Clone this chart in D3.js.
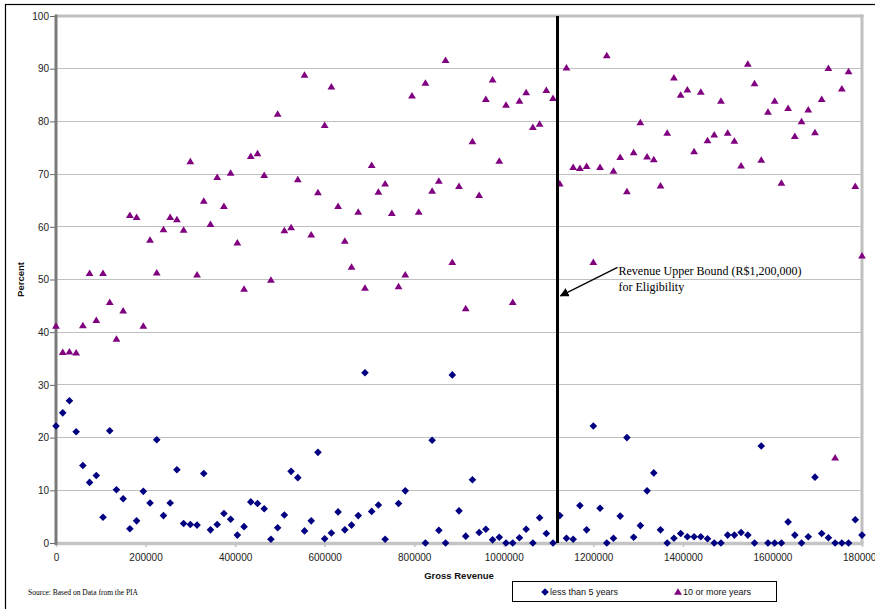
<!DOCTYPE html>
<html>
<meta charset="utf-8">
<title>Percent by Gross Revenue</title>
<style>
    body {
        margin: 0;
        background: #fff;
    }

    svg {
        display: block;
    }

    .tick text {
        font-family: "Liberation Sans", Arial, sans-serif;
        font-size: 10px;
        fill: #222;
    }

    .grid line {
        stroke: #c0c0c0;
        shape-rendering: crispEdges;
    }

    .axis-title {
        font-family: "Liberation Sans", Arial, sans-serif;
        font-weight: bold;
        font-size: 9.5px;
        fill: #111;
    }

    .serif {
        font-family: "Liberation Serif", "Times New Roman", serif;
        fill: #000;
    }

    .legend text {
        font-family: "Liberation Sans", Arial, sans-serif;
        font-size: 9px;
        fill: #111;
    }
</style>
<script src="https://cdn.jsdelivr.net/npm/d3@7/dist/d3.min.js"></script>

<body>
<script>
    // gross revenue of each observation (R$)
    const revenue = [
        0, 15000, 30000, 45000, 60000, 75000, 90000, 105000, 120000, 135000,
        150000, 165000, 180000, 195000, 210000, 225000, 240000, 255000, 270000, 285000,
        300000, 315000, 330000, 345000, 360000, 375000, 390000, 405000, 420000, 435000,
        450000, 465000, 480000, 495000, 510000, 525000, 540000, 555000, 570000, 585000,
        600000, 615000, 630000, 645000, 660000, 675000, 690000, 705000, 720000, 735000,
        750000, 765000, 780000, 795000, 810000, 825000, 840000, 855000, 870000, 885000,
        900000, 915000, 930000, 945000, 960000, 975000, 990000, 1005000, 1020000, 1035000,
        1050000, 1065000, 1080000, 1095000, 1110000, 1125000, 1140000, 1155000, 1170000, 1185000,
        1200000, 1215000, 1230000, 1245000, 1260000, 1275000, 1290000, 1305000, 1320000, 1335000,
        1350000, 1365000, 1380000, 1395000, 1410000, 1425000, 1440000, 1455000, 1470000, 1485000,
        1500000, 1515000, 1530000, 1545000, 1560000, 1575000, 1590000, 1605000, 1620000, 1635000,
        1650000, 1665000, 1680000, 1695000, 1710000, 1725000, 1740000, 1755000, 1770000, 1785000,
        1800000
    ]

    // percent "less than 5 years" (null = no point drawn)
    const lessThan5 = [
        22.2, 24.7, 27.0, 21.1, 14.7, 11.5, 12.8, 4.9, 21.3, 10.1,
        8.4, 2.7, 4.2, 9.8, 7.6, 19.6, 5.2, 7.6, 13.9, 3.7,
        3.5, 3.4, 13.2, 2.5, 3.5, 5.6, 4.5, 1.5, 3.1, 7.8,
        7.5, 6.5, 0.7, 2.9, 5.3, 13.6, 12.4, 2.3, 4.2, 17.2,
        0.8, 1.9, 5.9, 2.5, 3.4, 5.2, 32.3, 6.0, 7.2, 0.7,
        null, 7.5, 9.9, null, null, 0, 19.5, 2.4, 0, 31.9,
        6.1, 1.3, 12.0, 2.0, 2.6, 0.6, 1.1, 0, 0, 1.0,
        2.6, 0, 4.8, 1.8, 0, 5.2, 0.9, 0.7, 7.1, 2.5,
        22.2, 6.6, 0, 0.9, 5.1, 20.0, 1.1, 3.3, 9.9, 13.3,
        2.5, 0, 0.9, 1.8, 1.2, 1.2, 1.2, 0.8, 0, 0,
        1.5, 1.5, 2.0, 1.5, 0, 18.4, 0, 0, 0, 4.0,
        1.5, 0, 1.2, 12.5, 1.8, 1.0, 0, 0, 0, 4.4,
        1.5
    ]

    // percent "10 or more years"
    const tenOrMore = [
        41.2, 36.2, 36.3, 36.1, 41.3, 51.2, 42.3, 51.2, 45.7, 38.7,
        44.1, 62.2, 61.8, 41.2, 57.5, 51.3, 59.5, 61.8, 61.4, 59.4,
        72.4, 50.9, 64.9, 60.5, 69.4, 63.9, 70.2, 57.0, 48.2, 73.4,
        73.9, 69.8, 49.9, 81.4, 59.3, 59.9, 69.0, 88.8, 58.5, 66.5,
        79.3, 86.6, 63.9, 57.3, 52.4, 62.8, 48.4, 71.7, 66.6, 68.2,
        62.6, 48.7, 50.9, 84.9, 62.8, 87.3, 66.8, 68.7, 91.6, 53.3,
        67.7, 44.5, 76.2, 66.0, 84.2, 87.9, 72.5, 83.1, 45.7, 83.9,
        85.5, 78.9, 79.5, 85.9, 84.4, 68.2, 90.2, 71.3, 71.1, 71.5,
        53.3, 71.3, 92.5, 70.6, 73.2, 66.7, 74.1, 79.8, 73.3, 72.8,
        67.8, 77.8, 88.3, 85.0, 86.0, 74.3, 85.6, 76.4, 77.5, 83.9,
        77.8, 76.3, 71.6, 90.9, 87.2, 72.7, 81.8, 83.9, 68.3, 82.5,
        77.2, 80.0, 82.2, 77.9, 84.2, 90.1, 16.2, 86.2, 89.5, 67.7,
        54.5
    ]

    const xTicks = [0, 200000, 400000, 600000, 800000, 1000000, 1200000, 1400000, 1600000, 1800000]
    const yTicks = [0, 10, 20, 30, 40, 50, 60, 70, 80, 90, 100]
    const seriesNames = ["less than 5 years", "10 or more years"]
    const boundRevenue = 1120000   // where the eligibility line is drawn
    const boundLabel = ["Revenue Upper Bound (R$1,200,000)", "for Eligibility"]

    const width = 875, height = 609
    const x = d3.scaleLinear().domain([0, 1800000]).range([56, 862])
    const y = d3.scaleLinear().domain([0, 100]).range([543, 16])

    const diamond = "M0,-3.8L3.8,0L0,3.8L-3.8,0Z"
    const triangle = "M0,-3.7L3.9,2.8L-3.9,2.8Z"

    let svg = d3.select("body").append("svg")
        .attr("width", width).attr("height", height)

    // outer frame (runs off the right / bottom edge)
    svg.append("rect")
        .attr("x", 5.5).attr("y", 4.5)
        .attr("width", 900).attr("height", 700)
        .attr("fill", "none").attr("stroke", "#000").attr("stroke-width", 1.2)

    // gridlines
    svg.append("g").attr("class", "grid")
        .selectAll("line")
        .data(yTicks.filter(d => d > 0 && d < 100))
        .join("line")
        .attr("x1", x.range()[0]).attr("x2", x.range()[1])
        .attr("y1", d => y(d)).attr("y2", d => y(d))

    // plot frame
    let frame = svg.append("g")
    frame.append("line")
        .attr("x1", x(0)).attr("x2", x(1800000) + 1.5)
        .attr("y1", y(100)).attr("y2", y(100))
        .attr("stroke", "#c0c0c0").attr("stroke-width", 3)
    frame.append("line")
        .attr("x1", x(1800000)).attr("x2", x(1800000))
        .attr("y1", y(100) - 1.5).attr("y2", y(0))
        .attr("stroke", "#c0c0c0").attr("stroke-width", 3)

    // x axis
    let xAxis = svg.append("g")
        .attr("transform", `translate(0,${y(0)})`)
        .call(d3.axisBottom(x).tickValues(xTicks).tickFormat(d3.format("d")).tickSize(4).tickPadding(7))
    xAxis.select(".domain").remove()
    xAxis.selectAll(".tick line").attr("stroke", "#c0c0c0").attr("stroke-width", 1.5)
    svg.append("line")
        .attr("x1", x(0)).attr("x2", x(1800000) + 1.5)
        .attr("y1", y(0) + 0.5).attr("y2", y(0) + 0.5)
        .attr("stroke", "#c4c4c4").attr("stroke-width", 3.5)

    // y axis
    let yAxis = svg.append("g")
        .attr("transform", `translate(${x(0)},0)`)
        .call(d3.axisLeft(y).tickValues(yTicks).tickSize(6).tickPadding(1))
    yAxis.select(".domain").remove()
    yAxis.selectAll(".tick line").attr("stroke", "#666")
    svg.append("line")
        .attr("x1", x(0)).attr("x2", x(0))
        .attr("y1", y(100) - 1.5).attr("y2", y(0) + 2)
        .attr("stroke", "#7a7a7a").attr("stroke-width", 3)

    // series
    let lowPts = revenue.map((r, i) => ({ r: r, v: lessThan5[i] })).filter(d => d.v != null)
    let highPts = revenue.map((r, i) => ({ r: r, v: tenOrMore[i] })).filter(d => d.v != null)

    svg.append("g").selectAll("path")
        .data(highPts)
        .join("path")
        .attr("d", triangle)
        .attr("fill", "#800080")
        .attr("transform", d => `translate(${x(d.r)},${y(d.v)})`)

    svg.append("g").selectAll("path")
        .data(lowPts)
        .join("path")
        .attr("d", diamond)
        .attr("fill", "#000080")
        .attr("transform", d => `translate(${x(d.r)},${y(d.v)})`)

    // eligibility bound
    svg.append("line")
        .attr("x1", x(boundRevenue)).attr("x2", x(boundRevenue))
        .attr("y1", y(100)).attr("y2", y(0))
        .attr("stroke", "#000").attr("stroke-width", 3)

    svg.append("defs").append("marker")
        .attr("id", "arrow")
        .attr("viewBox", "0 0 10 10")
        .attr("refX", 9).attr("refY", 5)
        .attr("markerWidth", 7).attr("markerHeight", 7)
        .attr("orient", "auto")
        .append("path").attr("d", "M0,0L10,5L0,10Z").attr("fill", "#000")

    svg.append("line")
        .attr("x1", x(boundRevenue) + 60).attr("y1", y(52.3))
        .attr("x2", x(boundRevenue) + 3).attr("y2", y(46.9))
        .attr("stroke", "#000").attr("stroke-width", 1.3)
        .attr("marker-end", "url(#arrow)")

    svg.append("text").attr("class", "serif")
        .attr("x", x(boundRevenue) + 61).attr("y", y(50.9))
        .style("font-size", "12px")
        .selectAll("tspan")
        .data(boundLabel)
        .join("tspan")
        .attr("x", x(boundRevenue) + 61)
        .attr("dy", (d, i) => i ? 16 : 0)
        .text(d => d)

    // axis titles
    svg.append("text").attr("class", "axis-title")
        .attr("x", (x(0) + x(1800000)) / 2).attr("y", 579)
        .attr("text-anchor", "middle")
        .text("Gross Revenue")

    svg.append("text").attr("class", "axis-title")
        .attr("transform", `translate(24,${(y(0) + y(100)) / 2}) rotate(-90)`)
        .attr("text-anchor", "middle")
        .text("Percent")

    svg.append("text").attr("class", "serif")
        .attr("x", 28).attr("y", 595)
        .style("font-size", "7.5px")
        .text("Source: Based on Data from the PIA")

    // legend
    let legend = svg.append("g").attr("class", "legend")
    legend.append("rect")
        .attr("x", 512.5).attr("y", 581.5)
        .attr("width", 264).attr("height", 20)
        .attr("fill", "#fff").attr("stroke", "#000").attr("stroke-width", 1)

    let items = legend.selectAll("g.item")
        .data(seriesNames)
        .join("g").attr("class", "item")
        .attr("transform", (d, i) => `translate(${i ? 678 : 545},592)`)
    items.append("path")
        .attr("d", (d, i) => i ? triangle : diamond)
        .attr("fill", (d, i) => i ? "#800080" : "#000080")
    items.append("text")
        .attr("x", 5).attr("dy", "0.35em")
        .text(d => d)
</script>
</body>

</html>
